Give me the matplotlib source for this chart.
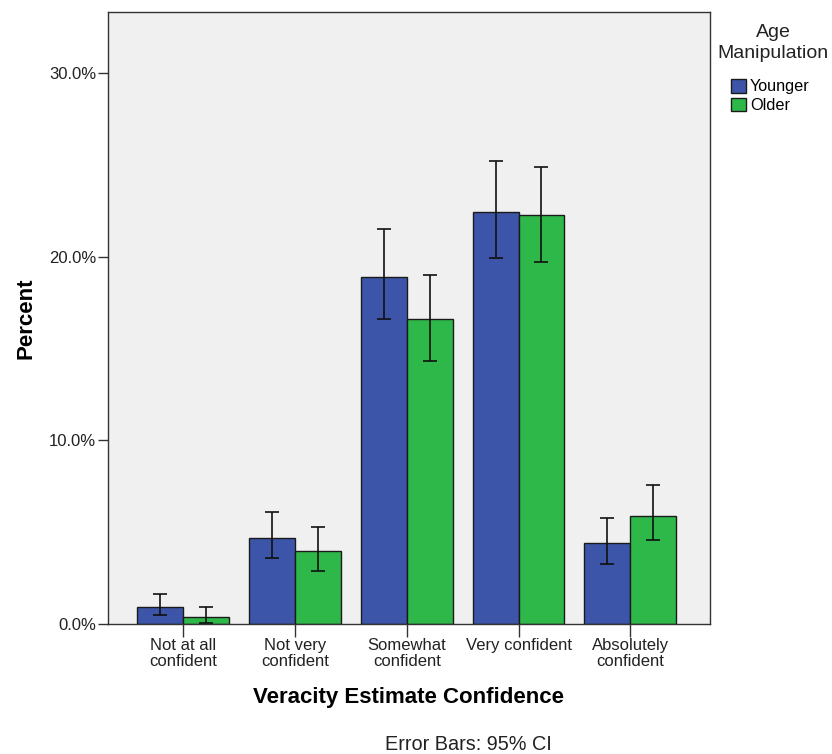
"""
Grouped bar chart of veracity estimate confidence by age manipulation,
with 95% confidence interval error bars.
"""

import matplotlib.pyplot as plt
import numpy as np
from matplotlib.ticker import FuncFormatter, FixedLocator

plt.rcParams["font.family"] = ["Liberation Sans", "DejaVu Sans"]

categories = [
    "Not at all\nconfident",
    "Not very\nconfident",
    "Somewhat\nconfident",
    "Very confident",
    "Absolutely\nconfident",
]
groups = ["Younger", "Older"]

younger_pct = [0.92, 4.67, 18.9, 22.45, 4.4]
younger_lo = [0.49, 3.6, 16.6, 19.9, 3.26]
younger_hi = [1.63, 6.1, 21.5, 25.2, 5.8]

older_pct = [0.38, 4.0, 16.6, 22.25, 5.9]
older_lo = [0.05, 2.9, 14.3, 19.7, 4.57]
older_hi = [0.92, 5.3, 19.0, 24.9, 7.55]

y_ticks = [0, 10, 20, 30]

BLUE = "#3d55a9"
GREEN = "#2fb84a"
EDGE = "#1a1a1a"
TEXT = "#222222"

fig = plt.figure(figsize=(8.32, 7.54), dpi=100)
ax = fig.add_axes([0.130, 0.172, 0.723, 0.812])
ax.set_facecolor("#f0f0f0")

x = np.arange(len(categories))
width = 0.41

handles = []
for offset, vals, lo, hi, color, name in (
    (-width / 2, younger_pct, younger_lo, younger_hi, BLUE, groups[0]),
    (width / 2, older_pct, older_lo, older_hi, GREEN, groups[1]),
):
    vals = np.array(vals)
    yerr = np.vstack([vals - np.array(lo), np.array(hi) - vals])
    bars = ax.bar(x + offset, vals, width, color=color, edgecolor=EDGE,
                  linewidth=1.0, label=name, zorder=2)
    handles.append(bars)
    ax.errorbar(x + offset, vals, yerr=yerr, fmt="none", ecolor="#111111",
                elinewidth=1.2, capsize=5, capthick=1.2, zorder=3)

ax.set_xlim(-0.67, 4.71)
ax.set_ylim(0, 33.3)

ax.yaxis.set_major_locator(FixedLocator(y_ticks))
ax.yaxis.set_major_formatter(FuncFormatter(lambda v, _: f"{v:.1f}%"))
ax.set_xticks(x)
ax.set_xticklabels(categories, fontsize=12, color=TEXT, linespacing=1.1)
ax.tick_params(axis="x", length=9, width=1.0, color="#333333", pad=0.5)
ax.tick_params(axis="y", length=7.5, width=1.0, color="#333333", labelsize=12,
               labelcolor=TEXT, pad=1)

for side in ("left", "right", "top", "bottom"):
    ax.spines[side].set_color("#333333")
    ax.spines[side].set_linewidth(1.0)

ax.set_ylabel("Percent", fontsize=16, fontweight="bold", labelpad=9)
ax.set_xlabel("Veracity Estimate Confidence", fontsize=16, fontweight="bold")
ax.xaxis.set_label_coords(0.5, -0.103)

# legend title drawn separately so it can sit centred above the swatches
fig.text(773 / 832, 1 - 24 / 754, "Age\nManipulation", ha="center", va="top",
         fontsize=14, color=TEXT, linespacing=1.3)
leg = fig.legend(
    handles=handles,
    labels=groups,
    loc="upper left",
    bbox_to_anchor=(731 / 832, 1 - 79 / 754),
    frameon=False,
    fontsize=11.7,
    handlelength=0.92,
    handleheight=0.92,
    handletextpad=0.25,
    labelspacing=0.2,
    borderpad=0.0,
    borderaxespad=0.0,
)

fig.text(468 / 832, 1 - 750 / 754, "Error Bars: 95% CI", ha="center",
         va="baseline", fontsize=14.3, color=TEXT)

fig.savefig("out.png", dpi=100)
